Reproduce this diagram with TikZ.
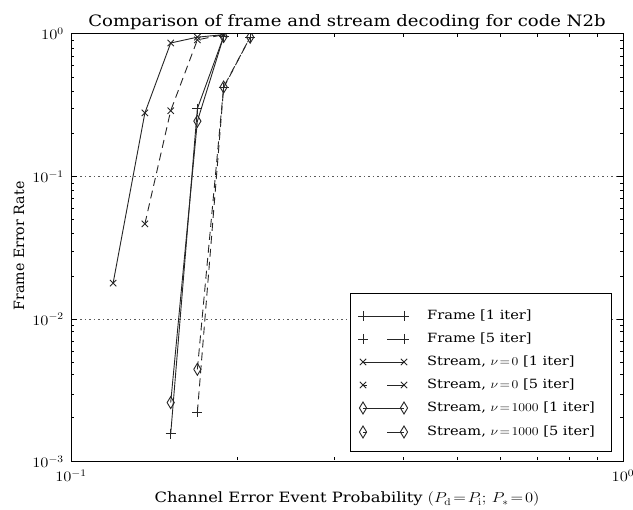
\documentclass[tikz,border=0pt]{standalone}
\usepackage[no-math]{fontspec}
\setmainfont{DejaVu Serif}

% data coordinates on log-log axes: x in [0.1,1], y in [1e-3,1]
\pgfkeys{/plotcs/.cd, x/.store in=\pcx, y/.store in=\pcy}
\tikzdeclarecoordinatesystem{dat}{%
  \pgfkeys{/plotcs/.cd,#1}%
  \pgfmathsetmacro\pcX{71+552*(1+log10(\pcx))}%
  \pgfmathsetmacro\pcY{34-142.67*log10(\pcy)}%
  \pgfpoint{\pcX pt}{-\pcY pt}%
}

% thin open diamond marker
\pgfdeclareplotmark{tdiam}{%
  \pgfpathmoveto{\pgfqpoint{0pt}{6pt}}%
  \pgfpathlineto{\pgfqpoint{3.6pt}{0pt}}%
  \pgfpathlineto{\pgfqpoint{0pt}{-6pt}}%
  \pgfpathlineto{\pgfqpoint{-3.6pt}{0pt}}%
  \pgfpathclose
  \pgfusepathqstroke}

\tikzset{
  curve/.style={line width=0.9pt, draw=black!85, mark options={solid}},
  dashc/.style={curve, dash pattern=on 8pt off 5pt},
  keydash/.style={curve, dash pattern=on 4pt off 20pt on 20pt off 1pt},
  mplus/.style={mark=+, mark size=5pt},
  mcross/.style={mark=x, mark size=4.5pt},
  mdiam/.style={mark=tdiam},
  frameline/.style={line width=1pt, draw=black},
  grid/.style={line width=0.7pt, draw=black!65, dash pattern=on 1.5pt off 3pt},
  majtick/.style={line width=0.6pt, draw=black},
  mintick/.style={line width=0.5pt, draw=black},
  ticklab/.style={font=\fontsize{14.6}{17}\selectfont, inner sep=0pt, xscale=1.15},
  lab/.style={font=\fontsize{14.2}{17}\selectfont, inner sep=0pt},
  legtext/.style={font=\fontsize{12.7}{15}\selectfont, anchor=west, inner sep=0pt, xscale=1.15},
}

\begin{document}
\begin{tikzpicture}[x=1pt, y=-1pt]
\useasboundingbox (0,0) rectangle (633,510);
\fill[white] (0,0) rectangle (633,510);

% axes corners
\coordinate (ll) at (71,462);
\coordinate (ur) at (623,34);

% horizontal grid lines at 1e-1 and 1e-2
\foreach \e in {-1,-2}
  \draw[grid] (dat cs:x=0.1,y=1e\e) -- (dat cs:x=1,y=1e\e);

% minor ticks on the log axes
\foreach \m in {2,...,9} {
  \draw[mintick] (dat cs:x=0.\m,y=0.001) -- ++(0,-3);
  \draw[mintick] (dat cs:x=0.\m,y=1) -- ++(0,3);
  \foreach \e in {-1,-2,-3} {
    \draw[mintick] (dat cs:x=0.1,y=\m e\e) -- ++(3,0);
    \draw[mintick] (dat cs:x=1,y=\m e\e) -- ++(-3,0);
  }
}
% major ticks
\foreach \e in {-1,-2} {
  \draw[majtick] (dat cs:x=0.1,y=1e\e) -- ++(6,0);
  \draw[majtick] (dat cs:x=1,y=1e\e) -- ++(-6,0);
}

% data curves
\begin{scope}
\clip (ll) rectangle (ur);
% Frame, 1 and 5 iterations
\draw[curve, mplus] plot coordinates {(dat cs:x=0.1499,y=0.00157) (dat cs:x=0.1685,y=0.30) (dat cs:x=0.1886,y=0.96)};
\draw[dashc, mplus] plot coordinates {(dat cs:x=0.1685,y=0.0022) (dat cs:x=0.1886,y=0.42) (dat cs:x=0.211,y=0.95)};
% Stream, nu = 0
\draw[curve, mcross] plot coordinates {(dat cs:x=0.1192,y=0.0177) (dat cs:x=0.1334,y=0.28) (dat cs:x=0.1499,y=0.865) (dat cs:x=0.1685,y=0.95) (dat cs:x=0.1886,y=0.99)};
\draw[dashc, mcross] plot coordinates {(dat cs:x=0.1334,y=0.0466) (dat cs:x=0.1499,y=0.29) (dat cs:x=0.1685,y=0.91) (dat cs:x=0.1886,y=0.99)};
% Stream, nu = 1000
\draw[curve, mdiam] plot coordinates {(dat cs:x=0.1499,y=0.0026) (dat cs:x=0.1685,y=0.245) (dat cs:x=0.1886,y=0.96)};
\draw[dashc, mdiam] plot coordinates {(dat cs:x=0.1685,y=0.0044) (dat cs:x=0.1886,y=0.425) (dat cs:x=0.211,y=0.95)};
\end{scope}

% axes frame
\draw[frameline] (ll) rectangle (ur);

% tick labels
\node[ticklab, anchor=north] (xl1) at (71,470) {$10^{-1}$};
\node[ticklab, anchor=north] (xl0) at (623,470) {$10^{0}$};
\node[ticklab, anchor=east] (yl0) at (64,34) {$10^{0}$};
\node[ticklab, anchor=east] (yl1) at (64,176.7) {$10^{-1}$};
\node[ticklab, anchor=east] (yl2) at (64,319.3) {$10^{-2}$};
\node[ticklab, anchor=east] (yl3) at (64,462) {$10^{-3}$};

% title and axis labels
\node[font=\fontsize{15.7}{18}\selectfont, anchor=base, inner sep=0pt, xscale=1.15] (title) at (347,27) {Comparison of frame and stream decoding for code N2b};
\node[lab, anchor=base, xscale=1.15] (xlab) at (347,503) {Channel Error Event Probability $(P_{\mathrm{d}}\!=\!P_{\mathrm{i}};\,P_{*}\!=\!0)$};
\node[lab, rotate=90, anchor=center] (ylab) at (19,246) {Frame Error Rate};

% legend
\draw[line width=1pt, fill=white] (350,294) rectangle (611,452);
\foreach \yy/\sty/\mk/\txt [count=\i] in {
  316/curve/mplus/{Frame [1 iter]},
  339/keydash/mplus/{Frame [5 iter]},
  362/curve/mcross/{Stream, $\nu\!=\!0$ [1 iter]},
  385/keydash/mcross/{Stream, $\nu\!=\!0$ [5 iter]},
  408/curve/mdiam/{Stream, $\nu\!=\!1000$ [1 iter]},
  432/keydash/mdiam/{Stream, $\nu\!=\!1000$ [5 iter]}} {
  \coordinate (ka\i) at (363,\yy);
  \coordinate (kb\i) at (404,\yy);
  \draw[\sty, \mk] plot coordinates {(ka\i) (kb\i)};
  \node[legtext] (kt\i) at (427,\yy) {\txt};
}
\end{tikzpicture}
\end{document}
